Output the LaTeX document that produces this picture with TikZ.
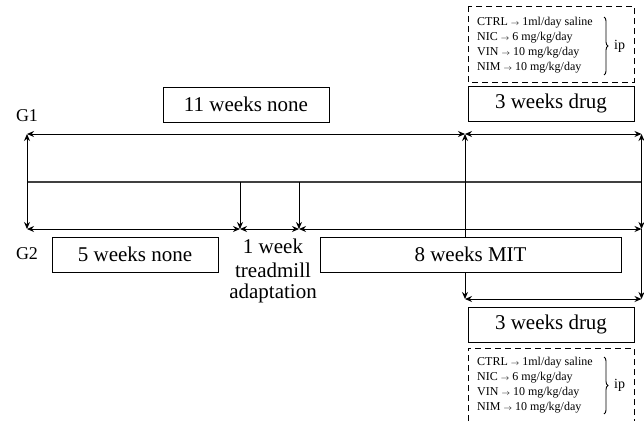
\documentclass[tikz,border=0pt]{standalone}
\usepackage{amsmath}
\usepackage{fontspec}
\setmainfont{Liberation Serif}
\usetikzlibrary{arrows.meta,positioning,decorations.pathreplacing}

\newcommand{\doseto}{{\fontsize{8}{8}\selectfont$\rightarrow$}}

\begin{document}
\begin{tikzpicture}[
    x=1pt, y=-1pt,
    period/.style={draw, fill=white, line width=1pt, minimum height=35pt, inner sep=0pt, font=\fontsize{21}{22}\selectfont},
    druglist/.style={anchor=west, inner sep=0pt, font=\fontsize{12}{15}\selectfont},
    dosebox/.style={line width=1pt, dash pattern=on 6pt off 4pt},
    dosebrace/.style={decorate, decoration={brace, amplitude=4pt}, line width=0.9pt},
    grouplabel/.style={font=\fontsize{18}{20}\selectfont},
    interval/.style={<->, line width=1pt, >={Stealth[length=7pt,width=6pt]}},
    drop/.style={->, line width=1pt, >={Stealth[length=7pt,width=6pt]}},
    timeline/.style={line width=1.4pt, black!75}
]
    \useasboundingbox (0,0) rectangle (644,421);

    % Coordinates
    \coordinate (m0) at (27,182);
    \coordinate (m1) at (240,182);
    \coordinate (m2) at (299,182);
    \coordinate (m3) at (641.5,182);
    \coordinate (t0) at (27,134);
    \coordinate (t1) at (465,134);
    \coordinate (t2) at (641.5,134);
    \coordinate (g0) at (27,229);
    \coordinate (g1) at (240,229);
    \coordinate (g2) at (299,229);
    \coordinate (g3) at (641.5,229);
    \coordinate (b1) at (465,299);
    \coordinate (b2) at (641.5,299);

    % Main line and group branches
    \draw[timeline] (m0) -- (m3);
    \draw[drop] (m0) -- (t0);
    \draw[drop] (m3) -- (t2);
    \draw[drop] (m0) -- (g0);
    \draw[drop] (m1) -- (g1);
    \draw[drop] (m2) -- (g2);
    \draw[drop] (m3) -- (g3);
    \draw[drop] (g3) -- (b2);
    \draw[interval] (t1) -- (b1);

    % Periods
    \draw[interval] (t0) -- (t1);
    \draw[interval] (t1) -- (t2);
    \draw[interval] (g0) -- (g1);
    \draw[interval] (g1) -- (g2);
    \draw[interval] (g2) -- (g3);
    \draw[interval] (b1) -- (b2);

    % Nodes
    \node[grouplabel] (g1label) at (27,116) {G1};
    \node[grouplabel] (g2label) at (27,254) {G2};
    \node[period, minimum width=166pt] (none11) at (246,104.5) {11 weeks none};
    \node[period, minimum width=166pt] (drugtop) at (551,103.5) {3 weeks drug};
    \node[period, minimum width=166pt] (none5) at (135,254.5) {5 weeks none};
    \node[period, minimum width=301pt] (mit) at (470.5,254.5) {8 weeks MIT};
    \node[period, minimum width=166pt] (drugbot) at (551,324.5) {3 weeks drug};
    \node[font=\fontsize{21}{24}\selectfont] (week1) at (273,246) {1 week};
    \node[font=\fontsize{21}{24}\selectfont] (treadmill) at (273,270) {treadmill};
    \node[font=\fontsize{21}{24}\selectfont] (adaptation) at (273,293) {adaptation};

    % Doses (top)
    \draw[dosebox] (468,6) rectangle (634,82);
    \node[druglist] (ctrltop) at (477,23) {CTRL \doseto{} 1ml/day saline};
    \node[druglist] (nictop) at (477,38) {NIC \doseto{} 6 mg/kg/day};
    \node[druglist] (vintop) at (477,53) {VIN \doseto{} 10 mg/kg/day};
    \node[druglist] (nimtop) at (477,68) {NIM \doseto{} 10 mg/kg/day};
    \draw[dosebrace] (604,17) -- (604,75);
    \node[druglist, font=\fontsize{14}{15}\selectfont] (iptop) at (614,46) {ip};

    % Doses (bottom)
    \draw[dosebox] (468,421) -- (468,348) -- (634,348) -- (634,421);
    \node[druglist] (ctrlbot) at (477,363) {CTRL \doseto{} 1ml/day saline};
    \node[druglist] (nicbot) at (477,378) {NIC \doseto{} 6 mg/kg/day};
    \node[druglist] (vinbot) at (477,393) {VIN \doseto{} 10 mg/kg/day};
    \node[druglist] (nimbot) at (477,408) {NIM \doseto{} 10 mg/kg/day};
    \draw[dosebrace] (604,357) -- (604,414);
    \node[druglist, font=\fontsize{14}{15}\selectfont] (ipbot) at (614,385) {ip};

\end{tikzpicture}
\end{document}
